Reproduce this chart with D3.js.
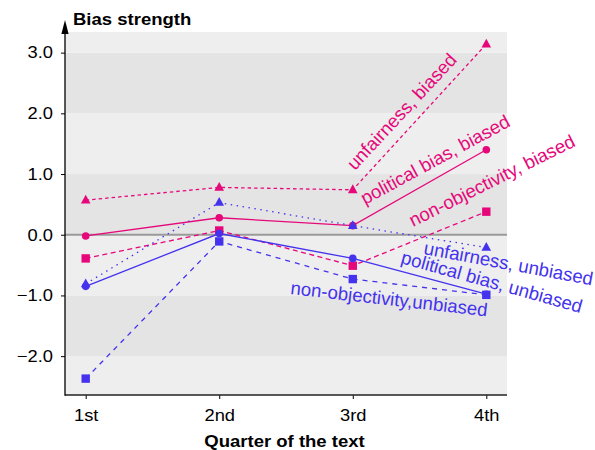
<!DOCTYPE html>
<html>
<head>
<meta charset="utf-8">
<script src="https://cdn.jsdelivr.net/npm/d3@7"></script>
<style>
  html, body { margin: 0; padding: 0; background: #ffffff; }
  svg { display: block; font-family: "Liberation Sans", Arial, Helvetica, sans-serif; }
</style>
</head>
<body>
<svg id="chart" width="595" height="450"></svg>
<script>
// ---- data ----
const quarters = ["1st", "2nd", "3rd", "4th"];
const yTicks = [-2, -1, 0, 1, 2, 3];
const seriesNames = [
  "unfairness, biased",
  "political bias, biased",
  "non-objectivity, biased",
  "unfairness, unbiased",
  "political bias, unbiased",
  "non-objectivity,unbiased"
];
const unfairnessBiased      = [0.57, 0.78, 0.74, 3.14];
const politicalBiased       = [-0.02, 0.28, 0.15, 1.40];
const nonObjectivityBiased  = [-0.39, 0.07, -0.51, 0.38];
const unfairnessUnbiased    = [-0.81, 0.53, 0.15, -0.21];
const politicalUnbiased     = [-0.85, 0.02, -0.39, -0.98];
const nonObjectivityUnbiased= [-2.37, -0.11, -0.73, -0.99];

// ---- styles / layout ----
const PINK = "#e6087a", BLUE = "#4432ee";
const series = [
  { name: seriesNames[1], values: politicalBiased,        color: PINK, dash: null,  marker: "circle" },
  { name: seriesNames[0], values: unfairnessBiased,       color: PINK, dash: "3.5,3", marker: "triangle" },
  { name: seriesNames[2], values: nonObjectivityBiased,   color: PINK, dash: "5,3.5", marker: "square" },
  { name: seriesNames[4], values: politicalUnbiased,      color: BLUE, dash: null,  marker: "circle" },
  { name: seriesNames[3], values: unfairnessUnbiased,     color: BLUE, dash: "1.5,4.5", marker: "triangle" },
  { name: seriesNames[5], values: nonObjectivityUnbiased, color: BLUE, dash: "5,5", marker: "square" }
];
const labelLayout = {
  "unfairness, biased":       { x: 355, y: 171, a: -47, c: PINK },
  "political bias, biased":   { x: 365, y: 205, a: -28.5, c: PINK },
  "non-objectivity, biased":  { x: 413, y: 227, a: -26.5, c: PINK },
  "unfairness, unbiased":     { x: 423, y: 254, a: 10.5, c: BLUE },
  "political bias, unbiased": { x: 400, y: 263, a: 15.5, c: BLUE },
  "non-objectivity,unbiased": { x: 290, y: 294, a: 6.5, c: BLUE }
};

const L = 65, R = 507, T = 32, B = 395;
const SX = 1.11; // horizontal stretch of tick text
const svg = d3.select("#chart");

const x = d3.scalePoint().domain(quarters).range([L, R]).padding(0.155);
const y = d3.scaleLinear().domain([-2.64, 3.34]).range([B, T]);

// background bands
const bandEdges = [-2.64, -2, -1, 0, 1, 2, 3, 3.34];
const bands = d3.pairs(bandEdges).map(([a, b]) => ({ a, b, dark: [-2, 0, 2].includes(a) }));
svg.append("g").selectAll("rect").data(bands).join("rect")
  .attr("x", L).attr("width", R - L)
  .attr("y", d => y(d.b)).attr("height", d => y(d.a) - y(d.b))
  .attr("fill", d => d.dark ? "#e4e4e4" : "#eeeeee");

// zero line
svg.append("line")
  .attr("x1", L).attr("x2", R).attr("y1", y(0)).attr("y2", y(0))
  .attr("stroke", "#9a9a9a").attr("stroke-width", 2);

// axes
const fmt = v => (v < 0 ? "\u2212" : "") + Math.abs(v).toFixed(1);
const yAxis = svg.append("g").attr("transform", `translate(${L},0)`)
  .call(d3.axisLeft(y).tickValues(yTicks).tickFormat(fmt).tickSize(4).tickPadding(6));
yAxis.select(".domain").remove();
yAxis.selectAll("text").attr("font-size", 16.5).attr("fill", "#000")
  .attr("font-family", "Liberation Sans, Arial, sans-serif")
  .attr("x", -12 / SX).attr("transform", `scale(${SX},1)`);
yAxis.selectAll("line").attr("stroke", "#000");

const xAxis = svg.append("g").attr("transform", `translate(0,${B})`)
  .call(d3.axisBottom(x).tickSize(4).tickPadding(10));
xAxis.select(".domain").remove();
xAxis.selectAll("text").attr("font-size", 16.5).attr("fill", "#000")
  .attr("font-family", "Liberation Sans, Arial, sans-serif")
  .attr("transform", `scale(${SX},1)`);
xAxis.selectAll("line").attr("stroke", "#000");

// axis lines
svg.append("line").attr("x1", L).attr("x2", R).attr("y1", B).attr("y2", B)
  .attr("stroke", "#222").attr("stroke-width", 1.5);
svg.append("line").attr("x1", L).attr("x2", L).attr("y1", B + 0.75).attr("y2", 30)
  .attr("stroke", "#000").attr("stroke-width", 1.3);
svg.append("path").attr("d", `M${L},20 L${L - 3.6},34 L${L + 3.6},34 Z`).attr("fill", "#000");

// axis titles
svg.append("text").attr("transform", "translate(73,25) scale(1.09,1)")
  .attr("font-size", 17).attr("font-weight", "bold").text("Bias strength");
svg.append("text").attr("transform", `translate(${(L + R) / 2 - 1.5},447) scale(1.09,1)`)
  .attr("text-anchor", "middle")
  .attr("font-size", 17).attr("font-weight", "bold").text("Quarter of the text");

// lines and markers
const line = d3.line().x((d, i) => x(quarters[i])).y(d => y(d));
const gS = svg.append("g");
series.forEach(s => {
  gS.append("path").attr("d", line(s.values)).attr("fill", "none")
    .attr("stroke", s.color).attr("stroke-width", 1.3)
    .attr("stroke-dasharray", s.dash);
});
series.forEach(s => {
  const g = gS.append("g").attr("fill", s.color);
  s.values.forEach((v, i) => {
    const cx = x(quarters[i]), cy = y(v);
    if (s.marker === "circle") {
      g.append("circle").attr("cx", cx).attr("cy", cy).attr("r", 3.8);
    } else if (s.marker === "square") {
      g.append("rect").attr("x", cx - 4.2).attr("y", cy - 4.2).attr("width", 8.4).attr("height", 8.4);
    } else {
      g.append("path").attr("d", `M${cx},${cy - 5.5} L${cx - 4.8},${cy + 3.3} L${cx + 4.8},${cy + 3.3} Z`);
    }
  });
});

// series labels
svg.append("g").selectAll("text").data(seriesNames).join("text")
  .attr("transform", d => `translate(${labelLayout[d].x},${labelLayout[d].y}) rotate(${labelLayout[d].a})`)
  .attr("fill", d => labelLayout[d].c)
  .attr("font-size", 18.6)
  .text(d => d);
</script>
</body>
</html>
